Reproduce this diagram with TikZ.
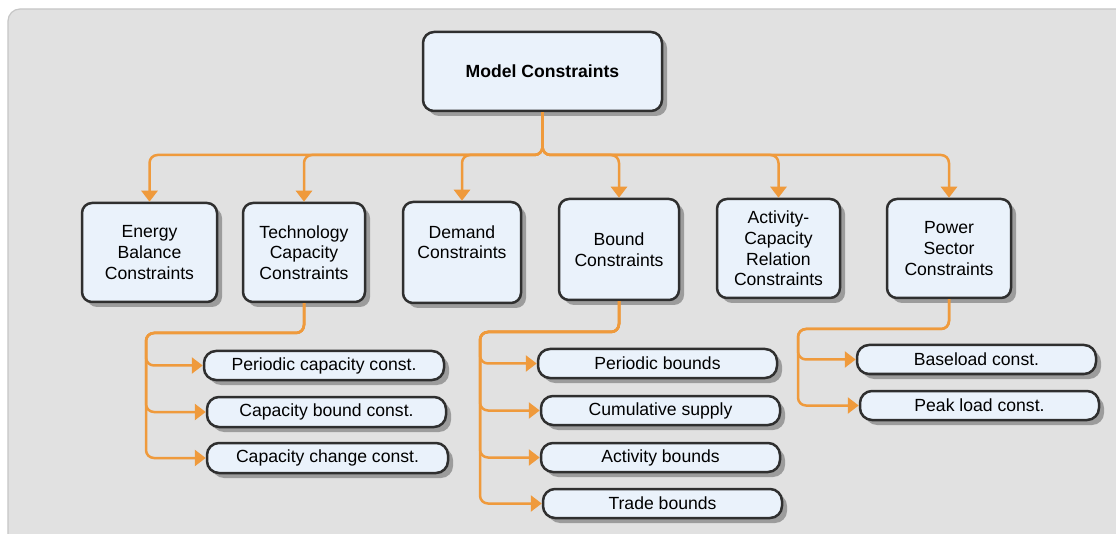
\documentclass[tikz,border=0pt]{standalone}
\usepackage{fontspec}
\setmainfont{Liberation Sans}
\usetikzlibrary{arrows.meta,shadows}
\definecolor{conncol}{HTML}{EF9A3C}
\definecolor{boxfill}{HTML}{EAF2FB}
\definecolor{boxline}{HTML}{2F2F2F}
\definecolor{bgfill}{HTML}{E1E1E1}
\definecolor{bgline}{HTML}{C6C6C6}
\definecolor{shadowcol}{HTML}{9C9C9C}
\tikzset{
  boxbase/.style={draw=boxline, line width=2.5pt, fill=boxfill, inner sep=0pt, align=center,
    font=\fontsize{17.6}{20.6}\selectfont,
    drop shadow={shadow xshift=5pt, shadow yshift=-5pt, fill=shadowcol, opacity=1}},
  lvl/.style={boxbase, rounded corners=10pt},
  topbox/.style={boxbase, rounded corners=11pt, font=\fontsize{17.6}{20.6}\selectfont\bfseries},
  subbox/.style={boxbase, rounded corners=12pt},
  conn/.style={draw=conncol, line width=2.5pt, rounded corners=8pt,
    -{Triangle[length=11pt,width=16pt]}},
}
\begin{document}
\begin{tikzpicture}[x=1pt,y=-1pt]
\useasboundingbox (0,0) rectangle (1116,534);
\clip (0,0) rectangle (1116,534);
\fill[white] (0,0) rectangle (1116,534);
\filldraw[fill=bgfill, draw=bgline, line width=1.2pt, rounded corners=12pt] (8,9) rectangle (1140,560);

% top
\node[topbox, minimum width=239pt, minimum height=79pt] (top) at (542.5,71.5) {Model Constraints};

% second level
\node[lvl, minimum width=135pt, minimum height=99pt] (energy) at (149.5,252.5) {Energy\\Balance\\Constraints};
\node[lvl, minimum width=122pt, minimum height=99pt] (tech) at (304,252.5) {Technology\\Capacity\\Constraints};
\node[lvl, minimum width=118pt, minimum height=101pt] (demand) at (462,252.5) {Demand\\Constraints\\\mbox{}};
\node[lvl, minimum width=120pt, minimum height=101pt] (bound) at (619,249.5) {Bound\\Constraints};
\node[lvl, minimum width=123pt, minimum height=99pt] (activity) at (778.5,248.5) {Activity-\\Capacity\\Relation\\Constraints};
\node[lvl, minimum width=124pt, minimum height=99pt] (power) at (949,248.5) {Power\\Sector\\Constraints};

% sub level: technology
\node[subbox, minimum width=240pt, minimum height=29pt] (pc) at (324,365.5) {Periodic capacity const.};
\node[subbox, minimum width=239pt, minimum height=30pt] (cb) at (326.5,412) {Capacity bound const.};
\node[subbox, minimum width=241pt, minimum height=30pt] (cc) at (327.5,458) {Capacity change const.};

% sub level: bound
\node[subbox, minimum width=239pt, minimum height=29pt] (pb) at (657.5,363.5) {Periodic bounds};
\node[subbox, minimum width=239pt, minimum height=29pt] (cs) at (660.5,410.5) {Cumulative supply};
\node[subbox, minimum width=239pt, minimum height=29pt] (ab) at (660.5,457.5) {Activity bounds};
\node[subbox, minimum width=239pt, minimum height=29pt] (tr) at (662.5,503.5) {Trade bounds};

% sub level: power
\node[subbox, minimum width=239pt, minimum height=29pt] (bl) at (976.5,359.5) {Baseload const.};
\node[subbox, minimum width=239pt, minimum height=29pt] (pl) at (979.5,405.5) {Peak load const.};

% bus coordinates
\coordinate (tbus) at (542.5,155);
\coordinate (tsp) at (146,333);
\coordinate (bsp) at (480,332);
\coordinate (psp) at (798,329);

% top connectors
\draw[conn] (top.south) -- (tbus) -| (energy.north);
\draw[conn] (top.south) -- (tbus) -| (tech.north);
\draw[conn] (top.south) -- (tbus) -| (demand.north);
\draw[conn] (top.south) -- (tbus) -| (bound.north);
\draw[conn] (top.south) -- (tbus) -| (activity.north);
\draw[conn] (top.south) -- (tbus) -| (power.north);

% technology connectors
\draw[conn] (tech.south) |- (tsp) |- (pc.west);
\draw[conn] (tech.south) |- (tsp) |- (cb.west);
\draw[conn] (tech.south) |- (tsp) |- (cc.west);

% bound connectors
\draw[conn] (bound.south) |- (bsp) |- (pb.west);
\draw[conn] (bound.south) |- (bsp) |- (cs.west);
\draw[conn] (bound.south) |- (bsp) |- (ab.west);
\draw[conn] (bound.south) |- (bsp) |- (tr.west);

% power connectors
\draw[conn] (power.south) |- (psp) |- (bl.west);
\draw[conn] (power.south) |- (psp) |- (pl.west);
\end{tikzpicture}
\end{document}
